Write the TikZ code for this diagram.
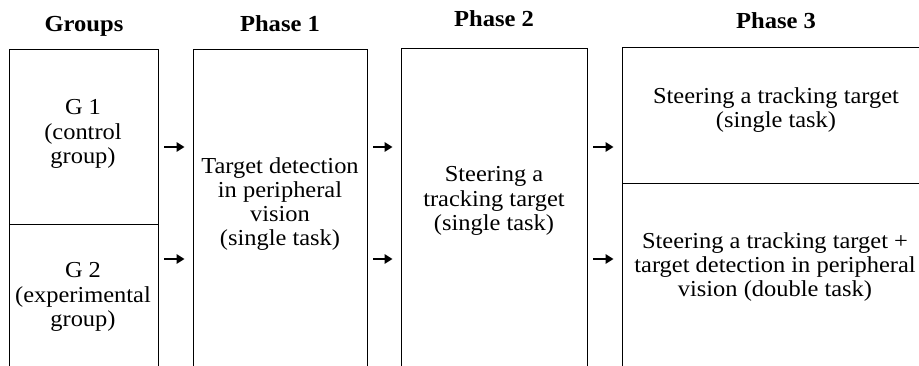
\documentclass[tikz,border=0pt]{standalone}
\usepackage{fontspec}
\setmainfont{Liberation Serif}[FakeStretch=1.07]
\usepackage{tikz}
\usetikzlibrary{arrows.meta, fit}

\begin{document}
\begin{tikzpicture}[
    x=0.03cm, y=-0.03cm,
    box/.style={draw, line width=0.8pt, inner sep=0pt},
    txt/.style={align=center, font=\fontsize{19.5}{20.6}\selectfont},
    head/.style={anchor=base, font=\fontsize{19.6}{20.6}\selectfont\bfseries},
    flow/.style={-{Triangle[length=2.4mm, width=2.8mm]}, line width=1.7pt, shorten <=0.18cm, shorten >=0.24cm}
]
    \clip (0,0) rectangle (919,366);

    % Column headings
    \node[head] (hgroups) at (84,32) {Groups};
    \node[head] (hphase1) at (280,32) {Phase 1};
    \node[head] (hphase2) at (494,27) {Phase 2};
    \node[head] (hphase3) at (776,29) {Phase 3};

    % Boxes
    \node[box, fit={(9,49) (158,224)}] (g1) {};
    \node[box, fit={(9,224) (158,390)}] (g2) {};
    \node[box, fit={(193,49) (367,390)}] (ph1) {};
    \node[box, fit={(401,48) (587,390)}] (ph2) {};
    \node[box, fit={(622,47) (940,183)}] (ph3a) {};
    \node[box, fit={(622,183) (940,390)}] (ph3b) {};

    % Box texts
    \node[txt] (tg1) at (83,134) {G 1\\(control\\group)};
    \node[txt] (tg2) at (83,297) {G 2\\(experimental\\group)};
    \node[txt] (tph1) at (280,204) {Target detection\\in peripheral\\vision\\(single task)};
    \node[txt] (tph2) at (494,201) {Steering a\\tracking target\\(single task)};
    \node[txt] (tph3a) at (776,110) {Steering a tracking target\\(single task)};
    \node[txt] (tph3b) at (775,267) {Steering a tracking target +\\target detection in peripheral\\vision (double task)};

    % Arrows
    \coordinate (r1) at (0,147);
    \coordinate (r2) at (0,259);
    \draw[flow] (g1.east |- r1) -- (ph1.west |- r1);
    \draw[flow] (g2.east |- r2) -- (ph1.west |- r2);
    \draw[flow] (ph1.east |- r1) -- (ph2.west |- r1);
    \draw[flow] (ph1.east |- r2) -- (ph2.west |- r2);
    \draw[flow] (ph2.east |- r1) -- (ph3a.west |- r1);
    \draw[flow] (ph2.east |- r2) -- (ph3b.west |- r2);
\end{tikzpicture}
\end{document}
